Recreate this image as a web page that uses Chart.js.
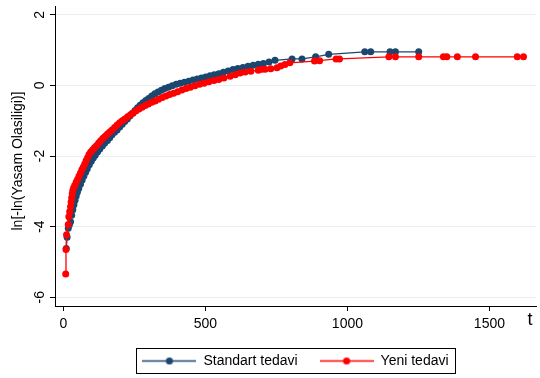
<!DOCTYPE html>
<html>
<head>
<meta charset="utf-8">
<script src="https://cdn.jsdelivr.net/npm/chart.js@4.4.1/dist/chart.umd.min.js"></script>
<style>
  html, body { margin: 0; padding: 0; background: #fff; }
</style>
</head>
<body>
<canvas id="chart" width="540" height="378"></canvas>
<script>
// Log-log survival curves for the two treatment groups
const seriesNames = ['Standart tedavi', 'Yeni tedavi'];

const standartT = [10, 13, 17, 21, 25, 29, 33, 37, 41, 45, 49, 54, 60, 66, 72, 78, 84, 91, 98, 105,
  112, 120, 128, 137, 145, 155, 163, 171, 180, 189, 198, 207, 216, 225, 234, 243, 252, 261, 270, 280,
  290, 300, 311, 322, 333, 345, 357, 370, 383, 397, 411, 426, 441, 456, 471, 486, 501, 516, 531, 547,
  563, 580, 597, 614, 632, 650, 668, 686, 704, 724, 745, 805, 840, 888, 934, 1061, 1082, 1150, 1169, 1251];
const standartY = [-4.62, -4.3, -4.05, -3.95, -3.86, -3.68, -3.52, -3.38, -3.25, -3.13, -3.03, -2.92, -2.8, -2.68, -2.57, -2.46, -2.36, -2.25, -2.15, -2.06,
  -1.98, -1.89, -1.8, -1.72, -1.64, -1.56, -1.48, -1.4, -1.33, -1.26, -1.18, -1.1, -1.02, -0.95, -0.87, -0.79, -0.71, -0.63, -0.56, -0.49,
  -0.43, -0.37, -0.3, -0.24, -0.19, -0.14, -0.09, -0.05, -0.01, 0.03, 0.06, 0.09, 0.12, 0.15, 0.18, 0.21, 0.24, 0.27, 0.3, 0.33,
  0.37, 0.41, 0.45, 0.48, 0.51, 0.54, 0.57, 0.6, 0.62, 0.66, 0.71, 0.75, 0.75, 0.81, 0.88, 0.95, 0.95, 0.95, 0.95, 0.95];

const yeniT = [8, 9, 11, 17, 19, 22, 25, 27, 29, 31, 33, 36, 40, 45, 50, 55, 60, 65, 70, 75,
  80, 85, 90, 96, 103, 110, 117, 124, 131, 139, 147, 155, 163, 171, 180, 189, 198, 207, 216, 226,
  236, 246, 256, 266, 277, 288, 299, 311, 323, 335, 348, 361, 374, 388, 402, 417, 432, 447, 463, 479,
  495, 512, 530, 547, 565, 587, 605, 622, 640, 660, 686, 698, 710, 730, 752, 765, 780, 797, 884, 902,
  960, 972, 1146, 1169, 1251, 1338, 1350, 1387, 1451, 1598, 1620];
const yeniY = [-5.34, -4.65, -4.23, -3.94, -3.72, -3.58, -3.44, -3.3, -3.18, -3.07, -2.98, -2.9, -2.83, -2.74, -2.66, -2.57, -2.48, -2.39, -2.31, -2.23,
  -2.13, -2.05, -1.96, -1.89, -1.82, -1.76, -1.7, -1.63, -1.57, -1.5, -1.44, -1.38, -1.32, -1.26, -1.19, -1.12, -1.06, -1.0, -0.95, -0.89,
  -0.83, -0.78, -0.72, -0.67, -0.62, -0.57, -0.53, -0.48, -0.44, -0.39, -0.34, -0.3, -0.26, -0.22, -0.18, -0.13, -0.09, -0.05, -0.01, 0.03,
  0.06, 0.1, 0.14, 0.17, 0.21, 0.26, 0.3, 0.35, 0.38, 0.4, 0.43, 0.46, 0.46, 0.47, 0.5, 0.55, 0.59, 0.64, 0.69, 0.7,
  0.75, 0.75, 0.81, 0.81, 0.81, 0.81, 0.81, 0.81, 0.81, 0.81, 0.81];

const xTicks = [0, 500, 1000, 1500];
const yTicks = [-6, -4, -2, 0, 2];
const xTitle = 't';
const yTitle = 'ln[-ln(Yasam Olasiligi)]';

const FONT = 'Arial, "Liberation Sans", Helvetica, sans-serif';
const NAVY = '#1a476f';
const RED = '#ff0000';

function toPoints(ts, ys) {
  return ts.map((t, i) => ({ x: t, y: ys[i] }));
}

// little line-with-marker swatch for the legend
function legendSymbol(color) {
  const c = document.createElement('canvas');
  c.width = 54;
  c.height = 9;
  const g = c.getContext('2d');
  g.strokeStyle = color;
  g.lineWidth = 1.3;
  g.beginPath();
  g.moveTo(0, 4.5);
  g.lineTo(54, 4.5);
  g.stroke();
  g.fillStyle = color;
  g.beginPath();
  g.arc(27, 4.5, 3.6, 0, Math.PI * 2);
  g.fill();
  return c;
}

// rotated y labels, axis titles and the legend frame
const decorations = {
  id: 'decorations',
  afterDraw(chart) {
    const { ctx, chartArea, scales: { y }, legend } = chart;
    ctx.save();
    ctx.fillStyle = '#000';
    ctx.textAlign = 'center';
    ctx.textBaseline = 'middle';
    ctx.font = '14px ' + FONT;
    yTicks.forEach(v => {
      ctx.save();
      ctx.translate(chartArea.left - 15, y.getPixelForValue(v));
      ctx.rotate(-Math.PI / 2);
      ctx.fillText(String(v), 0, 0);
      ctx.restore();
    });

    ctx.save();
    ctx.translate(18, (chartArea.top + chartArea.bottom) / 2 + 5);
    ctx.rotate(-Math.PI / 2);
    ctx.fillText(yTitle, 0, 0);
    ctx.restore();

    ctx.font = '18px ' + FONT;
    ctx.fillText(xTitle, 530, 320);

    const hb = legend.legendHitBoxes;
    if (hb && hb.length) {
      const first = hb[0];
      const last = hb[hb.length - 1];
      const left = first.left - 6;
      const right = last.left + last.width + 7;
      const cy = first.top + first.height / 2;
      ctx.strokeStyle = '#000';
      ctx.lineWidth = 1;
      ctx.strokeRect(Math.round(left) + 0.5, Math.round(cy - 13) + 0.5, Math.round(right - left), 25);
    }
    ctx.restore();
  }
};

new Chart(document.getElementById('chart'), {
  type: 'line',
  data: {
    datasets: [
      {
        label: seriesNames[0],
        data: toPoints(standartT, standartY),
        borderColor: NAVY,
        backgroundColor: NAVY,
        borderWidth: 1.3,
        pointRadius: 3.5,
        pointBorderWidth: 0,
        order: 1
      },
      {
        label: seriesNames[1],
        data: toPoints(yeniT, yeniY),
        borderColor: RED,
        backgroundColor: RED,
        borderWidth: 1.3,
        pointRadius: 3.5,
        pointBorderWidth: 0,
        order: 0
      }
    ]
  },
  options: {
    responsive: false,
    animation: false,
    devicePixelRatio: 1,
    layout: { padding: { top: 6, right: 0, left: 0, bottom: 0 } },
    plugins: {
      tooltip: { enabled: false },
      legend: {
        position: 'bottom',
        fullSize: false,
        labels: {
          usePointStyle: true,
          pointStyleWidth: 54,
          padding: 22,
          color: '#000',
          font: { family: FONT, size: 14 },
          generateLabels: () => [
            { text: seriesNames[0], pointStyle: legendSymbol(NAVY), datasetIndex: 0, fontColor: '#000', lineWidth: 0, strokeStyle: 'transparent' },
            { text: seriesNames[1], pointStyle: legendSymbol(RED), datasetIndex: 1, fontColor: '#000', lineWidth: 0, strokeStyle: 'transparent' }
          ]
        }
      }
    },
    scales: {
      x: {
        type: 'linear',
        min: -29.7,
        max: 1664,
        afterBuildTicks: s => { s.ticks = xTicks.map(v => ({ value: v })); },
        afterFit: s => { s.height = 26; },
        border: { color: '#000', width: 1 },
        grid: { drawOnChartArea: false, tickLength: 5, tickColor: '#000' },
        ticks: {
          color: '#000',
          font: { family: FONT, size: 14 },
          padding: 5,
          maxRotation: 0,
          callback: v => String(v)
        }
      },
      y: {
        type: 'linear',
        min: -6.249,
        max: 2.249,
        afterBuildTicks: s => { s.ticks = yTicks.map(v => ({ value: v })); },
        afterFit: s => { s.width = 55; },
        border: { color: '#000', width: 1 },
        grid: { color: '#e6eef0', lineWidth: 1, tickLength: 5, tickColor: '#000' },
        ticks: { display: false }
      }
    }
  },
  plugins: [decorations]
});
</script>
</body>
</html>
